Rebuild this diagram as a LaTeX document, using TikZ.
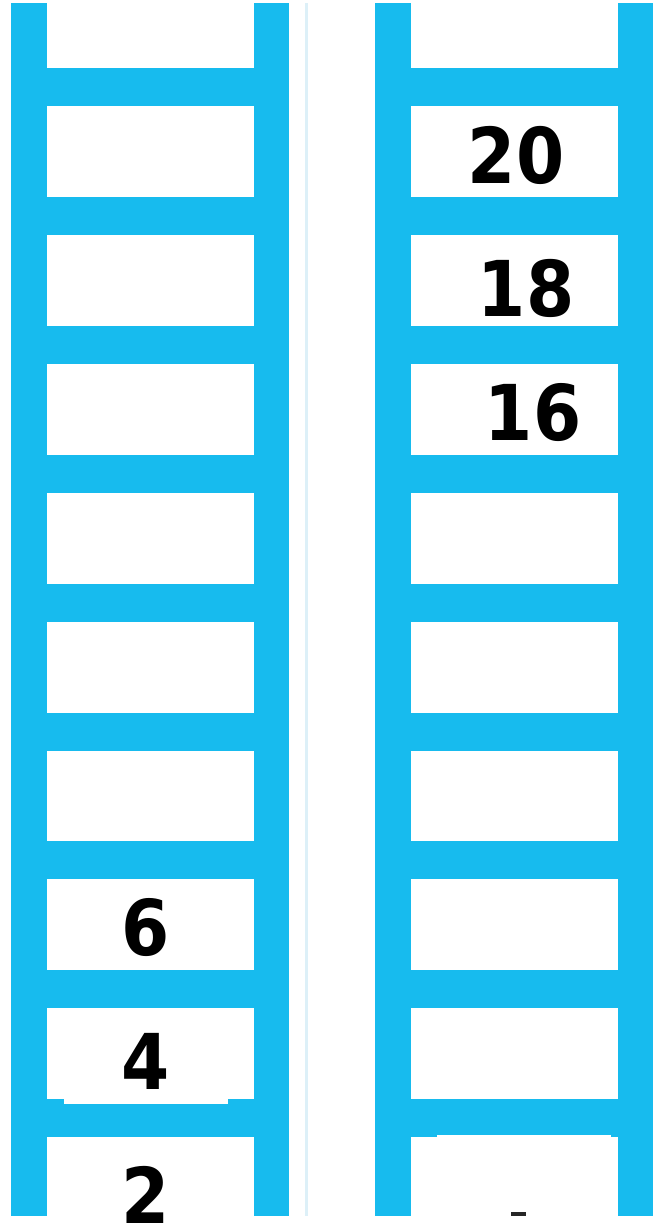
\documentclass[tikz,border=0pt]{standalone}
\usepackage{fontspec}
\newfontfamily\digitfont[FakeStretch=0.9]{DejaVu Sans Bold}
\definecolor{ladderblue}{RGB}{23,187,238}
\definecolor{paleblue}{RGB}{221,240,248}
\tikzset{
  rail/.style={fill=ladderblue},
  rung/.style={fill=ladderblue},
  gap/.style={fill=white},
  num/.style={font=\digitfont\fontsize{77}{77}\selectfont,inner sep=0pt,anchor=center},
}

\begin{document}
\begin{tikzpicture}[x=1pt,y=-1pt]
  \useasboundingbox[fill=white] (0,0) rectangle (666,1225);
  % thin divider between the two ladders
  \fill[paleblue] (305,3) rectangle (308,1216);
  % two ladders: rails and nine rungs each
  \foreach \xl/\xr in {11/254, 375/618}{
    \fill[rail] (\xl,3) rectangle ++(36,1213);
    \fill[rail] (\xr,3) rectangle ++(35,1213);
    \foreach \i in {0,...,8}{
      \fill[rung] (\xl+36,68+128.9*\i) rectangle (\xr,106+128.9*\i);
    }
  }
  % white scraps left over on two rungs
  \fill[gap] (64,1098) rectangle (228,1104);
  \fill[gap] (437,1135) rectangle (611,1139);
  \fill[black!85] (511,1212) rectangle (526,1216);
  % numbers on the rungs
  \node[num] (n20) at (516,155) {20};
  \node[num] (n18) at (526,288) {18};
  \node[num] (n16) at (533,413) {16};
  \node[num] (n6) at (146,927) {6};
  \node[num] (n4) at (146,1061) {4};
  \node[num] (n2) at (146,1195) {2};
\end{tikzpicture}
\end{document}
